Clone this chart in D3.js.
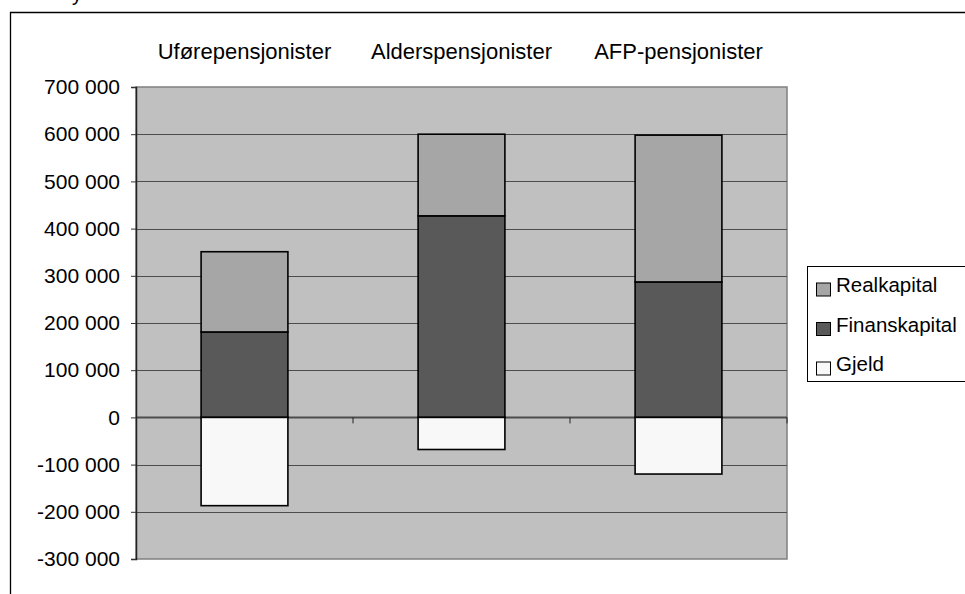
<!DOCTYPE html>
<html><head><meta charset="utf-8">
<script src="https://cdn.jsdelivr.net/npm/d3@7"></script>
<style>body{margin:0;background:#fff}svg{display:block;font-family:"Liberation Sans",Arial,sans-serif}</style>
</head><body><svg id="c" width="965" height="594"></svg>
<script>
const categories = ["Uførepensjonister", "Alderspensjonister", "AFP-pensjonister"];
const seriesNames = ["Realkapital", "Finanskapital", "Gjeld"];
const realkapital = [170000, 173000, 311000];
const finanskapital = [181000, 427000, 287000];
const gjeld = [-187000, -68000, -120000];
const yTicks = [700000, 600000, 500000, 400000, 300000, 200000, 100000, 0, -100000, -200000, -300000];
const colors = {Realkapital: "#a6a6a6", Finanskapital: "#595959", Gjeld: "#f8f8f8"};

const svg = d3.select("#c");
const L = 136, R = 787, T = 87, B = 559;
const x = d3.scaleBand().domain(categories).range([L, R]).paddingInner(0.6).paddingOuter(0.3);
const xb = d3.scaleBand().domain(categories).range([L, R]);
const y = d3.scaleLinear().domain([-300000, 700000]).range([B, T]);

// title remnant
svg.append("text").attr("x", 72).attr("y", 1).attr("font-size", 20).text("y");
// outer border
svg.append("path").attr("d", `M10.5,600V12.5H970`).attr("fill", "none").attr("stroke", "#000").attr("stroke-width", 1.3);

// plot area
svg.append("rect").attr("x", L).attr("y", T).attr("width", R - L).attr("height", B - T)
  .attr("fill", "#c0c0c0").attr("stroke", "#808080").attr("stroke-width", 1.5);

// gridlines
svg.append("g").selectAll("line").data(yTicks.filter(d => d !== 700000 && d !== -300000)).join("line")
  .attr("x1", L).attr("x2", R).attr("y1", d => Math.round(y(d)) + 0.5).attr("y2", d => Math.round(y(d)) + 0.5)
  .attr("stroke", "#4d4d4d").attr("stroke-width", d => d === 0 ? 2 : 1);

// y axis
const yAxis = d3.axisLeft(y).tickValues(yTicks).tickSize(5).tickPadding(11)
  .tickFormat(d => d3.format(",")(d).replace(/,/g, " ").replace("−", "-"));
const ga = svg.append("g").attr("transform", `translate(${L},0)`).call(yAxis);
ga.select(".domain").attr("stroke", "#222").attr("stroke-width", 1.5);
ga.selectAll(".tick line").attr("stroke", "#333");
ga.selectAll("text").attr("font-size", 21).attr("fill", "#000").attr("font-family", "Liberation Sans, Arial, sans-serif");

// category ticks at zero line
svg.append("g").selectAll("line").data(categories).join("line")
  .attr("x1", d => xb(d) + xb.bandwidth()).attr("x2", d => xb(d) + xb.bandwidth())
  .attr("y1", y(0)).attr("y2", y(0) + 6).attr("stroke", "#222");

// category labels at top
svg.append("g").selectAll("text").data(categories).join("text")
  .attr("x", d => x(d) + x.bandwidth() / 2).attr("y", 59).attr("text-anchor", "middle")
  .attr("font-size", 22).text(d => d);

// stacked bars
const rows = categories.map((c, i) => ({c, Realkapital: realkapital[i], Finanskapital: finanskapital[i], Gjeld: gjeld[i]}));
const bars = svg.append("g");
rows.forEach(r => {
  const segs = [
    {k: "Finanskapital", y0: 0, y1: r.Finanskapital},
    {k: "Realkapital", y0: r.Finanskapital, y1: r.Finanskapital + r.Realkapital},
    {k: "Gjeld", y0: r.Gjeld, y1: 0}
  ];
  segs.forEach(s => {
    bars.append("rect").attr("x", x(r.c)).attr("width", x.bandwidth())
      .attr("y", y(Math.max(s.y0, s.y1))).attr("height", Math.abs(y(s.y0) - y(s.y1)))
      .attr("fill", colors[s.k]).attr("stroke", "#000").attr("stroke-width", 1.6);
  });
});

// legend
const lg = svg.append("g");
lg.append("rect").attr("x", 807.5).attr("y", 266.5).attr("width", 170).attr("height", 115)
  .attr("fill", "#fff").attr("stroke", "#000").attr("stroke-width", 1);
seriesNames.forEach((n, i) => {
  const base = 292 + i * 39.5;
  lg.append("rect").attr("x", 816.5).attr("y", base - 9).attr("width", 14).attr("height", 13)
    .attr("fill", colors[n]).attr("stroke", "#000").attr("stroke-width", 1);
  lg.append("text").attr("x", 836).attr("y", base).attr("font-size", 20.5).text(n);
});
</script></body></html>
